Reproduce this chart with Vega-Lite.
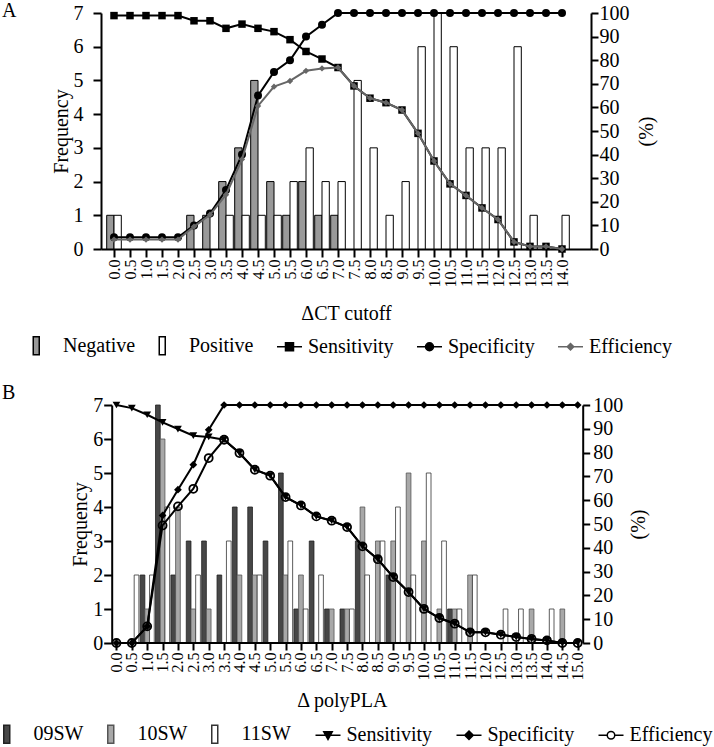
{
  "$schema": "https://vega.github.io/schema/vega-lite/v6.json",
  "padding": {"left": 1, "top": 1, "right": 5, "bottom": 0},
  "columns": 1,
  "align": "none",
  "spacing": 25,
  "resolve": {"scale": {"shape": "independent", "fill": "independent", "stroke": "independent"}, "legend": {"shape": "independent", "fill": "independent", "stroke": "independent"}},
  "config": {
    "font": "Liberation Serif",
    "view": {"stroke": null},
    "axis": {"domainColor": "black", "domainWidth": 2, "tickColor": "black", "tickWidth": 2, "tickSize": 8, "labelFont": "Liberation Serif", "labelFontSize": 20, "labelColor": "black", "labelPadding": 2, "titleFont": "Liberation Serif", "titleFontSize": 20, "titleFontWeight": "normal", "titleColor": "black", "grid": false},
    "title": {"font": "Liberation Serif", "fontSize": 20, "fontWeight": "normal", "color": "black"},
    "legend": {"labelFont": "Liberation Serif", "labelFontSize": 20, "labelColor": "black"}
  },
  "datasets": {
    "a_bars": [
      {"cutoff": 0.0, "series": "Negative", "frequency": 1},
      {"cutoff": 2.5, "series": "Negative", "frequency": 1},
      {"cutoff": 3.0, "series": "Negative", "frequency": 1},
      {"cutoff": 3.5, "series": "Negative", "frequency": 2},
      {"cutoff": 4.0, "series": "Negative", "frequency": 3},
      {"cutoff": 4.5, "series": "Negative", "frequency": 5},
      {"cutoff": 5.0, "series": "Negative", "frequency": 2},
      {"cutoff": 5.5, "series": "Negative", "frequency": 1},
      {"cutoff": 6.0, "series": "Negative", "frequency": 2},
      {"cutoff": 6.5, "series": "Negative", "frequency": 1},
      {"cutoff": 7.0, "series": "Negative", "frequency": 1},
      {"cutoff": 0.0, "series": "Positive", "frequency": 1},
      {"cutoff": 3.5, "series": "Positive", "frequency": 1},
      {"cutoff": 4.0, "series": "Positive", "frequency": 1},
      {"cutoff": 4.5, "series": "Positive", "frequency": 1},
      {"cutoff": 5.0, "series": "Positive", "frequency": 1},
      {"cutoff": 5.5, "series": "Positive", "frequency": 2},
      {"cutoff": 6.0, "series": "Positive", "frequency": 3},
      {"cutoff": 6.5, "series": "Positive", "frequency": 2},
      {"cutoff": 7.0, "series": "Positive", "frequency": 2},
      {"cutoff": 7.5, "series": "Positive", "frequency": 5},
      {"cutoff": 8.0, "series": "Positive", "frequency": 3},
      {"cutoff": 8.5, "series": "Positive", "frequency": 1},
      {"cutoff": 9.0, "series": "Positive", "frequency": 2},
      {"cutoff": 9.5, "series": "Positive", "frequency": 6},
      {"cutoff": 10.0, "series": "Positive", "frequency": 7},
      {"cutoff": 10.5, "series": "Positive", "frequency": 6},
      {"cutoff": 11.0, "series": "Positive", "frequency": 3},
      {"cutoff": 11.5, "series": "Positive", "frequency": 3},
      {"cutoff": 12.0, "series": "Positive", "frequency": 3},
      {"cutoff": 12.5, "series": "Positive", "frequency": 6},
      {"cutoff": 13.0, "series": "Positive", "frequency": 1},
      {"cutoff": 14.0, "series": "Positive", "frequency": 1}
    ],
    "a_lines": [
      {"cutoff": 0.0, "series": "Sensitivity", "pct": 98.9},
      {"cutoff": 0.5, "series": "Sensitivity", "pct": 98.9},
      {"cutoff": 1.0, "series": "Sensitivity", "pct": 98.9},
      {"cutoff": 1.5, "series": "Sensitivity", "pct": 98.9},
      {"cutoff": 2.0, "series": "Sensitivity", "pct": 98.9},
      {"cutoff": 2.5, "series": "Sensitivity", "pct": 96.7},
      {"cutoff": 3.0, "series": "Sensitivity", "pct": 96.7},
      {"cutoff": 3.5, "series": "Sensitivity", "pct": 93.5},
      {"cutoff": 4.0, "series": "Sensitivity", "pct": 95.3},
      {"cutoff": 4.5, "series": "Sensitivity", "pct": 93.5},
      {"cutoff": 5.0, "series": "Sensitivity", "pct": 92.1},
      {"cutoff": 5.5, "series": "Sensitivity", "pct": 88.7},
      {"cutoff": 6.0, "series": "Sensitivity", "pct": 83.7},
      {"cutoff": 6.5, "series": "Sensitivity", "pct": 80.5},
      {"cutoff": 7.0, "series": "Sensitivity", "pct": 76.9},
      {"cutoff": 7.5, "series": "Sensitivity", "pct": 69.1},
      {"cutoff": 8.0, "series": "Sensitivity", "pct": 63.9},
      {"cutoff": 8.5, "series": "Sensitivity", "pct": 62.0},
      {"cutoff": 9.0, "series": "Sensitivity", "pct": 58.9},
      {"cutoff": 9.5, "series": "Sensitivity", "pct": 49.0},
      {"cutoff": 10.0, "series": "Sensitivity", "pct": 37.3},
      {"cutoff": 10.5, "series": "Sensitivity", "pct": 27.6},
      {"cutoff": 11.0, "series": "Sensitivity", "pct": 22.7},
      {"cutoff": 11.5, "series": "Sensitivity", "pct": 17.4},
      {"cutoff": 12.0, "series": "Sensitivity", "pct": 12.5},
      {"cutoff": 12.5, "series": "Sensitivity", "pct": 3.0},
      {"cutoff": 13.0, "series": "Sensitivity", "pct": 1.1},
      {"cutoff": 13.5, "series": "Sensitivity", "pct": 1.1},
      {"cutoff": 14.0, "series": "Sensitivity", "pct": 0},
      {"cutoff": 0.0, "series": "Specificity", "pct": 5},
      {"cutoff": 0.5, "series": "Specificity", "pct": 5},
      {"cutoff": 1.0, "series": "Specificity", "pct": 5},
      {"cutoff": 1.5, "series": "Specificity", "pct": 5},
      {"cutoff": 2.0, "series": "Specificity", "pct": 5},
      {"cutoff": 2.5, "series": "Specificity", "pct": 10},
      {"cutoff": 3.0, "series": "Specificity", "pct": 15},
      {"cutoff": 3.5, "series": "Specificity", "pct": 25},
      {"cutoff": 4.0, "series": "Specificity", "pct": 40},
      {"cutoff": 4.5, "series": "Specificity", "pct": 65},
      {"cutoff": 5.0, "series": "Specificity", "pct": 75},
      {"cutoff": 5.5, "series": "Specificity", "pct": 80},
      {"cutoff": 6.0, "series": "Specificity", "pct": 90},
      {"cutoff": 6.5, "series": "Specificity", "pct": 95},
      {"cutoff": 7.0, "series": "Specificity", "pct": 100},
      {"cutoff": 7.5, "series": "Specificity", "pct": 100},
      {"cutoff": 8.0, "series": "Specificity", "pct": 100},
      {"cutoff": 8.5, "series": "Specificity", "pct": 100},
      {"cutoff": 9.0, "series": "Specificity", "pct": 100},
      {"cutoff": 9.5, "series": "Specificity", "pct": 100},
      {"cutoff": 10.0, "series": "Specificity", "pct": 100},
      {"cutoff": 10.5, "series": "Specificity", "pct": 100},
      {"cutoff": 11.0, "series": "Specificity", "pct": 100},
      {"cutoff": 11.5, "series": "Specificity", "pct": 100},
      {"cutoff": 12.0, "series": "Specificity", "pct": 100},
      {"cutoff": 12.5, "series": "Specificity", "pct": 100},
      {"cutoff": 13.0, "series": "Specificity", "pct": 100},
      {"cutoff": 13.5, "series": "Specificity", "pct": 100},
      {"cutoff": 14.0, "series": "Specificity", "pct": 100},
      {"cutoff": 0.0, "series": "Efficiency", "pct": 4},
      {"cutoff": 0.5, "series": "Efficiency", "pct": 4},
      {"cutoff": 1.0, "series": "Efficiency", "pct": 4},
      {"cutoff": 1.5, "series": "Efficiency", "pct": 4},
      {"cutoff": 2.0, "series": "Efficiency", "pct": 4},
      {"cutoff": 2.5, "series": "Efficiency", "pct": 9.5},
      {"cutoff": 3.0, "series": "Efficiency", "pct": 14.5},
      {"cutoff": 3.5, "series": "Efficiency", "pct": 23},
      {"cutoff": 4.0, "series": "Efficiency", "pct": 38},
      {"cutoff": 4.5, "series": "Efficiency", "pct": 60.6},
      {"cutoff": 5.0, "series": "Efficiency", "pct": 68.8},
      {"cutoff": 5.5, "series": "Efficiency", "pct": 71.2},
      {"cutoff": 6.0, "series": "Efficiency", "pct": 75.5},
      {"cutoff": 6.5, "series": "Efficiency", "pct": 76.5},
      {"cutoff": 7.0, "series": "Efficiency", "pct": 76.9},
      {"cutoff": 7.5, "series": "Efficiency", "pct": 69.1},
      {"cutoff": 8.0, "series": "Efficiency", "pct": 63.9},
      {"cutoff": 8.5, "series": "Efficiency", "pct": 62.0},
      {"cutoff": 9.0, "series": "Efficiency", "pct": 58.9},
      {"cutoff": 9.5, "series": "Efficiency", "pct": 49.0},
      {"cutoff": 10.0, "series": "Efficiency", "pct": 37.3},
      {"cutoff": 10.5, "series": "Efficiency", "pct": 27.6},
      {"cutoff": 11.0, "series": "Efficiency", "pct": 22.7},
      {"cutoff": 11.5, "series": "Efficiency", "pct": 17.4},
      {"cutoff": 12.0, "series": "Efficiency", "pct": 12.5},
      {"cutoff": 12.5, "series": "Efficiency", "pct": 3.0},
      {"cutoff": 13.0, "series": "Efficiency", "pct": 1.1},
      {"cutoff": 13.5, "series": "Efficiency", "pct": 1.1},
      {"cutoff": 14.0, "series": "Efficiency", "pct": 0}
    ],
    "b_bars": [
      {"cutoff": 1.0, "series": "09SW", "frequency": 2},
      {"cutoff": 1.5, "series": "09SW", "frequency": 7},
      {"cutoff": 2.0, "series": "09SW", "frequency": 2},
      {"cutoff": 2.5, "series": "09SW", "frequency": 3},
      {"cutoff": 3.0, "series": "09SW", "frequency": 3},
      {"cutoff": 3.5, "series": "09SW", "frequency": 2},
      {"cutoff": 4.0, "series": "09SW", "frequency": 4},
      {"cutoff": 4.5, "series": "09SW", "frequency": 4},
      {"cutoff": 5.0, "series": "09SW", "frequency": 3},
      {"cutoff": 5.5, "series": "09SW", "frequency": 5},
      {"cutoff": 6.0, "series": "09SW", "frequency": 1},
      {"cutoff": 6.5, "series": "09SW", "frequency": 3},
      {"cutoff": 7.0, "series": "09SW", "frequency": 1},
      {"cutoff": 7.5, "series": "09SW", "frequency": 1},
      {"cutoff": 8.0, "series": "09SW", "frequency": 3},
      {"cutoff": 9.0, "series": "09SW", "frequency": 2},
      {"cutoff": 11.0, "series": "09SW", "frequency": 1},
      {"cutoff": 1.0, "series": "10SW", "frequency": 1},
      {"cutoff": 1.5, "series": "10SW", "frequency": 6},
      {"cutoff": 2.0, "series": "10SW", "frequency": 4},
      {"cutoff": 2.5, "series": "10SW", "frequency": 1},
      {"cutoff": 3.0, "series": "10SW", "frequency": 1},
      {"cutoff": 4.0, "series": "10SW", "frequency": 2},
      {"cutoff": 4.5, "series": "10SW", "frequency": 2},
      {"cutoff": 5.5, "series": "10SW", "frequency": 2},
      {"cutoff": 6.0, "series": "10SW", "frequency": 2},
      {"cutoff": 7.0, "series": "10SW", "frequency": 1},
      {"cutoff": 7.5, "series": "10SW", "frequency": 1},
      {"cutoff": 8.0, "series": "10SW", "frequency": 4},
      {"cutoff": 8.5, "series": "10SW", "frequency": 3},
      {"cutoff": 9.0, "series": "10SW", "frequency": 3},
      {"cutoff": 9.5, "series": "10SW", "frequency": 5},
      {"cutoff": 10.0, "series": "10SW", "frequency": 3},
      {"cutoff": 10.5, "series": "10SW", "frequency": 1},
      {"cutoff": 11.0, "series": "10SW", "frequency": 1},
      {"cutoff": 11.5, "series": "10SW", "frequency": 2},
      {"cutoff": 13.5, "series": "10SW", "frequency": 1},
      {"cutoff": 14.5, "series": "10SW", "frequency": 1},
      {"cutoff": 0.5, "series": "11SW", "frequency": 2},
      {"cutoff": 1.0, "series": "11SW", "frequency": 2},
      {"cutoff": 1.5, "series": "11SW", "frequency": 4},
      {"cutoff": 2.5, "series": "11SW", "frequency": 2},
      {"cutoff": 3.5, "series": "11SW", "frequency": 3},
      {"cutoff": 4.5, "series": "11SW", "frequency": 2},
      {"cutoff": 5.5, "series": "11SW", "frequency": 3},
      {"cutoff": 6.0, "series": "11SW", "frequency": 1},
      {"cutoff": 6.5, "series": "11SW", "frequency": 2},
      {"cutoff": 7.5, "series": "11SW", "frequency": 1},
      {"cutoff": 8.0, "series": "11SW", "frequency": 2},
      {"cutoff": 8.5, "series": "11SW", "frequency": 3},
      {"cutoff": 9.0, "series": "11SW", "frequency": 4},
      {"cutoff": 9.5, "series": "11SW", "frequency": 2},
      {"cutoff": 10.0, "series": "11SW", "frequency": 5},
      {"cutoff": 10.5, "series": "11SW", "frequency": 3},
      {"cutoff": 11.0, "series": "11SW", "frequency": 1},
      {"cutoff": 11.5, "series": "11SW", "frequency": 2},
      {"cutoff": 12.5, "series": "11SW", "frequency": 1},
      {"cutoff": 13.0, "series": "11SW", "frequency": 1},
      {"cutoff": 14.0, "series": "11SW", "frequency": 1}
    ],
    "b_lines": [
      {"cutoff": 0.0, "series": "Sensitivity", "pct": 100},
      {"cutoff": 0.5, "series": "Sensitivity", "pct": 98.7},
      {"cutoff": 1.0, "series": "Sensitivity", "pct": 95.9},
      {"cutoff": 1.5, "series": "Sensitivity", "pct": 92.7},
      {"cutoff": 2.0, "series": "Sensitivity", "pct": 89.9},
      {"cutoff": 2.5, "series": "Sensitivity", "pct": 87.1},
      {"cutoff": 3.0, "series": "Sensitivity", "pct": 86.6},
      {"cutoff": 3.5, "series": "Sensitivity", "pct": 85.4},
      {"cutoff": 4.0, "series": "Sensitivity", "pct": 79.8},
      {"cutoff": 4.5, "series": "Sensitivity", "pct": 72.8},
      {"cutoff": 5.0, "series": "Sensitivity", "pct": 70.3},
      {"cutoff": 5.5, "series": "Sensitivity", "pct": 61.3},
      {"cutoff": 6.0, "series": "Sensitivity", "pct": 57.8},
      {"cutoff": 6.5, "series": "Sensitivity", "pct": 53.2},
      {"cutoff": 7.0, "series": "Sensitivity", "pct": 51.4},
      {"cutoff": 7.5, "series": "Sensitivity", "pct": 48.7},
      {"cutoff": 8.0, "series": "Sensitivity", "pct": 40.6},
      {"cutoff": 8.5, "series": "Sensitivity", "pct": 35.2},
      {"cutoff": 9.0, "series": "Sensitivity", "pct": 27.7},
      {"cutoff": 9.5, "series": "Sensitivity", "pct": 21.4},
      {"cutoff": 10.0, "series": "Sensitivity", "pct": 14.3},
      {"cutoff": 10.5, "series": "Sensitivity", "pct": 10.5},
      {"cutoff": 11.0, "series": "Sensitivity", "pct": 8.1},
      {"cutoff": 11.5, "series": "Sensitivity", "pct": 4.5},
      {"cutoff": 12.0, "series": "Sensitivity", "pct": 4.5},
      {"cutoff": 12.5, "series": "Sensitivity", "pct": 3.5},
      {"cutoff": 13.0, "series": "Sensitivity", "pct": 2.5},
      {"cutoff": 13.5, "series": "Sensitivity", "pct": 1.7},
      {"cutoff": 14.0, "series": "Sensitivity", "pct": 1.1},
      {"cutoff": 14.5, "series": "Sensitivity", "pct": 0},
      {"cutoff": 15.0, "series": "Sensitivity", "pct": 0},
      {"cutoff": 0.0, "series": "Specificity", "pct": 0},
      {"cutoff": 0.5, "series": "Specificity", "pct": 0},
      {"cutoff": 1.0, "series": "Specificity", "pct": 7},
      {"cutoff": 1.5, "series": "Specificity", "pct": 53.6},
      {"cutoff": 2.0, "series": "Specificity", "pct": 64.4},
      {"cutoff": 2.5, "series": "Specificity", "pct": 74.9},
      {"cutoff": 3.0, "series": "Specificity", "pct": 89.6},
      {"cutoff": 3.5, "series": "Specificity", "pct": 100},
      {"cutoff": 4.0, "series": "Specificity", "pct": 100},
      {"cutoff": 4.5, "series": "Specificity", "pct": 100},
      {"cutoff": 5.0, "series": "Specificity", "pct": 100},
      {"cutoff": 5.5, "series": "Specificity", "pct": 100},
      {"cutoff": 6.0, "series": "Specificity", "pct": 100},
      {"cutoff": 6.5, "series": "Specificity", "pct": 100},
      {"cutoff": 7.0, "series": "Specificity", "pct": 100},
      {"cutoff": 7.5, "series": "Specificity", "pct": 100},
      {"cutoff": 8.0, "series": "Specificity", "pct": 100},
      {"cutoff": 8.5, "series": "Specificity", "pct": 100},
      {"cutoff": 9.0, "series": "Specificity", "pct": 100},
      {"cutoff": 9.5, "series": "Specificity", "pct": 100},
      {"cutoff": 10.0, "series": "Specificity", "pct": 100},
      {"cutoff": 10.5, "series": "Specificity", "pct": 100},
      {"cutoff": 11.0, "series": "Specificity", "pct": 100},
      {"cutoff": 11.5, "series": "Specificity", "pct": 100},
      {"cutoff": 12.0, "series": "Specificity", "pct": 100},
      {"cutoff": 12.5, "series": "Specificity", "pct": 100},
      {"cutoff": 13.0, "series": "Specificity", "pct": 100},
      {"cutoff": 13.5, "series": "Specificity", "pct": 100},
      {"cutoff": 14.0, "series": "Specificity", "pct": 100},
      {"cutoff": 14.5, "series": "Specificity", "pct": 100},
      {"cutoff": 15.0, "series": "Specificity", "pct": 100},
      {"cutoff": 0.0, "series": "Efficiency", "pct": 0},
      {"cutoff": 0.5, "series": "Efficiency", "pct": 0},
      {"cutoff": 1.0, "series": "Efficiency", "pct": 7},
      {"cutoff": 1.5, "series": "Efficiency", "pct": 49.4},
      {"cutoff": 2.0, "series": "Efficiency", "pct": 57.4},
      {"cutoff": 2.5, "series": "Efficiency", "pct": 64.8},
      {"cutoff": 3.0, "series": "Efficiency", "pct": 77.7},
      {"cutoff": 3.5, "series": "Efficiency", "pct": 85.4},
      {"cutoff": 4.0, "series": "Efficiency", "pct": 79.8},
      {"cutoff": 4.5, "series": "Efficiency", "pct": 72.8},
      {"cutoff": 5.0, "series": "Efficiency", "pct": 70.3},
      {"cutoff": 5.5, "series": "Efficiency", "pct": 61.3},
      {"cutoff": 6.0, "series": "Efficiency", "pct": 57.8},
      {"cutoff": 6.5, "series": "Efficiency", "pct": 53.2},
      {"cutoff": 7.0, "series": "Efficiency", "pct": 51.4},
      {"cutoff": 7.5, "series": "Efficiency", "pct": 48.7},
      {"cutoff": 8.0, "series": "Efficiency", "pct": 40.6},
      {"cutoff": 8.5, "series": "Efficiency", "pct": 35.2},
      {"cutoff": 9.0, "series": "Efficiency", "pct": 27.7},
      {"cutoff": 9.5, "series": "Efficiency", "pct": 21.4},
      {"cutoff": 10.0, "series": "Efficiency", "pct": 14.3},
      {"cutoff": 10.5, "series": "Efficiency", "pct": 10.5},
      {"cutoff": 11.0, "series": "Efficiency", "pct": 8.1},
      {"cutoff": 11.5, "series": "Efficiency", "pct": 4.5},
      {"cutoff": 12.0, "series": "Efficiency", "pct": 4.5},
      {"cutoff": 12.5, "series": "Efficiency", "pct": 3.5},
      {"cutoff": 13.0, "series": "Efficiency", "pct": 2.5},
      {"cutoff": 13.5, "series": "Efficiency", "pct": 1.7},
      {"cutoff": 14.0, "series": "Efficiency", "pct": 1.1},
      {"cutoff": 14.5, "series": "Efficiency", "pct": 0},
      {"cutoff": 15.0, "series": "Efficiency", "pct": 0}
    ]
  },
  "concat": [
    {
      "width": 490,
      "height": 236,
      "title": {"text": "A", "anchor": "start", "frame": "group", "dx": -99, "dy": 18, "offset": 0},
      "encoding": {
        "x": {"field": "cutoff", "type": "quantitative", "scale": {"domain": [-0.25, 14.75], "nice": false, "zero": false},
          "axis": {"title": "ΔCT cutoff", "values": [0,0.5,1,1.5,2,2.5,3,3.5,4,4.5,5,5.5,6,6.5,7,7.5,8,8.5,9,9.5,10,10.5,11,11.5,12,12.5,13,13.5,14], "format": ".1f", "labelAngle": 270, "labelFontSize": 16, "labelOverlap": false, "labelFlush": false, "labelBound": false, "titlePadding": 16}}
      },
      "layer": [
        {
          "data": {"name": "a_bars"},
          "encoding": {"y": {"field": "frequency", "type": "quantitative", "scale": {"domain": [0, 7], "nice": false}, "axis": {"orient": "left", "title": "Frequency", "values": [0,1,2,3,4,5,6,7], "labelPadding": 10, "titlePadding": 2}}},
          "layer": [
            {"transform": [{"filter": "datum.series === 'Negative'"}], "mark": {"type": "bar", "width": 7.3, "xOffset": -3.65, "fill": "#999999", "stroke": "black", "strokeWidth": 1}},
            {"transform": [{"filter": "datum.series === 'Positive'"}], "mark": {"type": "bar", "width": 7.3, "xOffset": 3.65, "fill": "white", "stroke": "black", "strokeWidth": 1}},
            {
              "mark": {"type": "point", "opacity": 0, "filled": true},
              "encoding": {
                "shape": {"field": "series", "type": "nominal", "scale": {"domain": ["Negative", "Positive", "Sensitivity", "Specificity", "Efficiency"], "range": ["M-0.9,-0.72H-0.42V0.72H-0.9Z", "M-0.9,-0.72H-0.42V0.72H-0.9Z", "M-1,0H1M-0.32,-0.32H0.32V0.32H-0.32Z", "M-1,0H1M-0.32,0A0.32,0.32 0 1,0 0.32,0A0.32,0.32 0 1,0 -0.32,0Z", "M-1,0H1M0,-0.26L0.26,0L0,0.26L-0.26,0Z"]},
                  "legend": {"title": null, "orient": "none", "legendX": -70, "legendY": 319, "direction": "horizontal", "columns": 5, "columnPadding": 20, "symbolSize": 625, "symbolStrokeWidth": 1.5, "symbolOpacity": 1, "labelOffset": 5}},
                "fill": {"field": "series", "type": "nominal", "scale": {"domain": ["Negative", "Positive", "Sensitivity", "Specificity", "Efficiency"], "range": ["#999999", "#ffffff", "#000000", "#000000", "#666666"]},
                  "legend": {"title": null, "orient": "none", "legendX": -70, "legendY": 319, "direction": "horizontal", "columns": 5, "columnPadding": 20, "symbolSize": 625, "symbolStrokeWidth": 1.5, "symbolOpacity": 1, "labelOffset": 5}},
                "stroke": {"field": "series", "type": "nominal", "scale": {"domain": ["Negative", "Positive", "Sensitivity", "Specificity", "Efficiency"], "range": ["#000000", "#000000", "#000000", "#000000", "#666666"]},
                  "legend": {"title": null, "orient": "none", "legendX": -70, "legendY": 319, "direction": "horizontal", "columns": 5, "columnPadding": 20, "symbolSize": 625, "symbolStrokeWidth": 1.5, "symbolOpacity": 1, "labelOffset": 5}}
              }
            }
          ]
        },
        {
          "data": {"name": "a_lines"},
          "encoding": {"y": {"field": "pct", "type": "quantitative", "scale": {"domain": [0, 100], "nice": false}, "axis": {"orient": "right", "title": "(%)", "titleAngle": 270, "values": [0,10,20,30,40,50,60,70,80,90,100], "tickSize": 7, "labelPadding": 1, "titlePadding": 27}}},
          "layer": [
            {"transform": [{"filter": "datum.series === 'Specificity'"}], "mark": {"type": "line", "color": "black", "strokeWidth": 2}},
            {"transform": [{"filter": "datum.series === 'Specificity'"}], "mark": {"type": "point", "shape": "circle", "filled": true, "color": "black", "size": 64, "opacity": 1}},
            {"transform": [{"filter": "datum.series === 'Sensitivity'"}], "mark": {"type": "line", "color": "black", "strokeWidth": 2}},
            {"transform": [{"filter": "datum.series === 'Sensitivity'"}], "mark": {"type": "point", "shape": "square", "filled": true, "color": "black", "size": 56, "opacity": 1}},
            {"transform": [{"filter": "datum.series === 'Efficiency'"}], "mark": {"type": "line", "color": "#666666", "strokeWidth": 2}},
            {"transform": [{"filter": "datum.series === 'Efficiency'"}], "mark": {"type": "point", "shape": "diamond", "filled": true, "color": "#666666", "size": 40, "opacity": 1}}
          ]
        }
      ],
      "resolve": {"scale": {"y": "independent"}}
    },
    {
      "width": 481.7,
      "height": 238,
      "title": {"text": "B", "anchor": "start", "frame": "group", "dx": -99, "dy": 8, "offset": 0},
      "encoding": {
        "x": {"field": "cutoff", "type": "quantitative", "scale": {"domain": [-0.34, 15], "nice": false, "zero": false},
          "axis": {"title": "Δ polyPLA", "domain": false, "values": [0,0.5,1,1.5,2,2.5,3,3.5,4,4.5,5,5.5,6,6.5,7,7.5,8,8.5,9,9.5,10,10.5,11,11.5,12,12.5,13,13.5,14,14.5,15], "format": ".1f", "labelAngle": 270, "labelFontSize": 16, "labelOverlap": false, "labelFlush": false, "labelBound": false, "tickSize": 7, "titlePadding": 10}}
      },
      "layer": [
        {
          "data": {"name": "b_bars"},
          "encoding": {"y": {"field": "frequency", "type": "quantitative", "scale": {"domain": [0, 7], "nice": false}, "axis": {"orient": "left", "offset": -10.7, "title": "Frequency", "values": [0,1,2,3,4,5,6,7], "labelPadding": 1, "titlePadding": 2}}},
          "layer": [
            {"transform": [{"filter": "datum.series === '09SW'"}], "mark": {"type": "bar", "width": 4.7, "xOffset": -4.7, "fill": "#474747", "stroke": "#222222", "strokeWidth": 0.8}},
            {"transform": [{"filter": "datum.series === '10SW'"}], "mark": {"type": "bar", "width": 4.7, "xOffset": 0, "fill": "#a8a8a8", "stroke": "#555555", "strokeWidth": 0.8}},
            {"transform": [{"filter": "datum.series === '11SW'"}], "mark": {"type": "bar", "width": 4.7, "xOffset": 4.7, "fill": "white", "stroke": "#333333", "strokeWidth": 0.8}},
            {"mark": {"type": "rule", "color": "black", "strokeWidth": 2}, "encoding": {"x": {"datum": 0}, "x2": {"datum": 15}, "y": {"datum": 0}}},
            {
              "mark": {"type": "point", "opacity": 0, "filled": true},
              "encoding": {
                "shape": {"field": "series", "type": "nominal", "scale": {"domain": ["09SW", "10SW", "11SW", "Sensitivity", "Specificity", "Efficiency"], "range": ["M-0.9,-0.72H-0.42V0.72H-0.9Z", "M-0.9,-0.72H-0.42V0.72H-0.9Z", "M-0.9,-0.72H-0.42V0.72H-0.9Z", "M-1,0H1M-0.34,-0.28H0.34L0,0.34Z", "M-1,0H1M0,-0.34L0.34,0L0,0.34L-0.34,0Z", "M-1,0H-0.3M0.3,0H1M-0.3,0A0.3,0.3 0 1,0 0.3,0A0.3,0.3 0 1,0 -0.3,0Z"]},
                  "legend": {"title": null, "orient": "none", "legendX": -99.5, "legendY": 315.5, "direction": "horizontal", "columns": 6, "columnPadding": 21, "symbolSize": 625, "symbolStrokeWidth": 1.5, "symbolOpacity": 1, "labelOffset": 5}},
                "fill": {"field": "series", "type": "nominal", "scale": {"domain": ["09SW", "10SW", "11SW", "Sensitivity", "Specificity", "Efficiency"], "range": ["#474747", "#a8a8a8", "#ffffff", "#000000", "#000000", "#ffffff"]},
                  "legend": {"title": null, "orient": "none", "legendX": -99.5, "legendY": 315.5, "direction": "horizontal", "columns": 6, "columnPadding": 21, "symbolSize": 625, "symbolStrokeWidth": 1.5, "symbolOpacity": 1, "labelOffset": 5}},
                "stroke": {"field": "series", "type": "nominal", "scale": {"domain": ["09SW", "10SW", "11SW", "Sensitivity", "Specificity", "Efficiency"], "range": ["#222222", "#555555", "#333333", "#000000", "#000000", "#000000"]},
                  "legend": {"title": null, "orient": "none", "legendX": -99.5, "legendY": 315.5, "direction": "horizontal", "columns": 6, "columnPadding": 21, "symbolSize": 625, "symbolStrokeWidth": 1.5, "symbolOpacity": 1, "labelOffset": 5}}
              }
            }
          ]
        },
        {
          "data": {"name": "b_lines"},
          "encoding": {"y": {"field": "pct", "type": "quantitative", "scale": {"domain": [0, 100], "nice": false}, "axis": {"orient": "right", "title": "(%)", "titleAngle": 270, "values": [0,10,20,30,40,50,60,70,80,90,100], "tickSize": 7, "labelPadding": 3, "titlePadding": 26}}},
          "layer": [
            {"transform": [{"filter": "datum.series === 'Sensitivity'"}], "mark": {"type": "line", "color": "black", "strokeWidth": 2}},
            {"transform": [{"filter": "datum.series === 'Sensitivity'"}], "mark": {"type": "point", "shape": "triangle-down", "filled": true, "color": "black", "size": 60, "opacity": 1}},
            {"transform": [{"filter": "datum.series === 'Specificity'"}], "mark": {"type": "line", "color": "black", "strokeWidth": 2}},
            {"transform": [{"filter": "datum.series === 'Specificity'"}], "mark": {"type": "point", "shape": "diamond", "filled": true, "color": "black", "size": 60, "opacity": 1}},
            {"transform": [{"filter": "datum.series === 'Efficiency'"}], "mark": {"type": "line", "color": "black", "strokeWidth": 2}},
            {"transform": [{"filter": "datum.series === 'Efficiency'"}], "mark": {"type": "point", "shape": "circle", "filled": false, "color": "black", "strokeWidth": 1.8, "size": 64, "opacity": 1}}
          ]
        }
      ],
      "resolve": {"scale": {"y": "independent"}}
    }
  ]
}
